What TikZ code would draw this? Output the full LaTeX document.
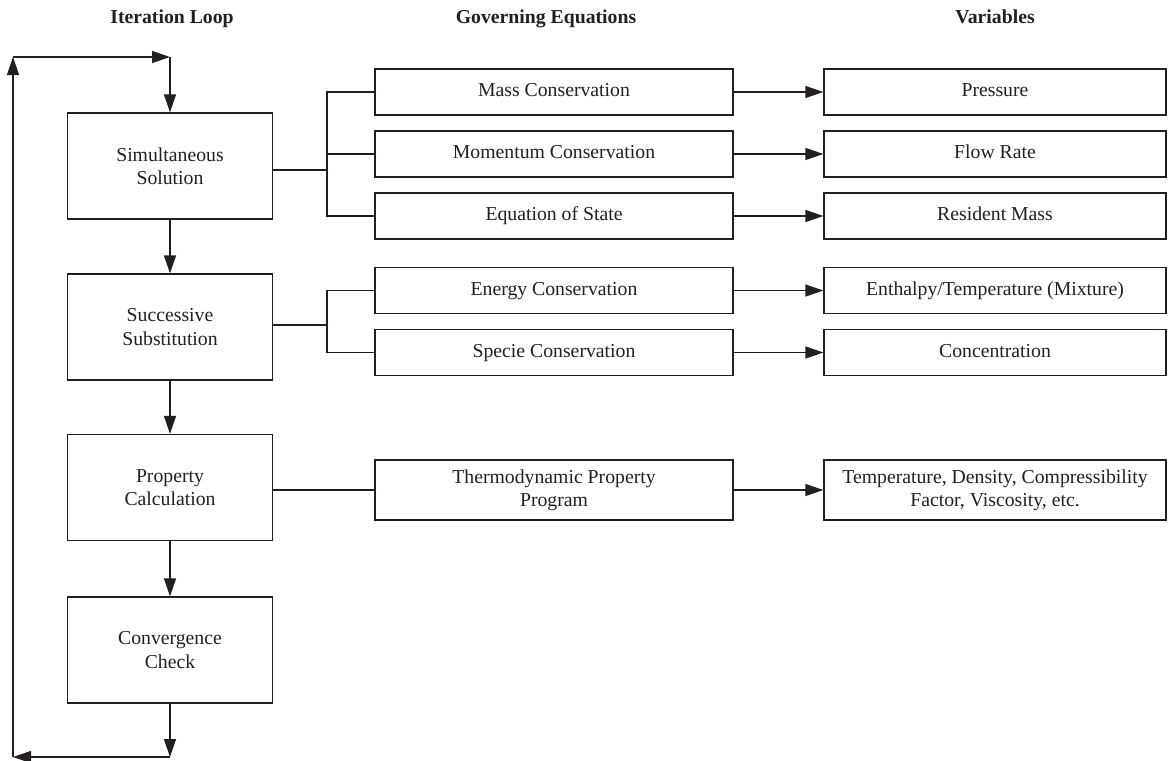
\documentclass[tikz,border=0pt]{standalone}
\usepackage{fontspec}
\setmainfont{Liberation Serif}
\usepackage{tikz}
\usetikzlibrary{arrows.meta}
\definecolor{ink}{HTML}{231F20}

\tikzset{
  box/.style={draw=ink,line width=1pt,text=ink,align=center,inner sep=2pt,
    font=\fontsize{14.8}{17.5}\selectfont},
  loopbox/.style={box,minimum width=153.75pt,minimum height=79.5pt},
  eqbox/.style={box,minimum width=268.5pt,minimum height=34.5pt},
  varbox/.style={box,minimum width=256.5pt,minimum height=34.5pt},
  oneline/.style={text height=10.2pt,text depth=3.2pt},
  head/.style={text=ink,anchor=base,font=\fontsize{14.8}{17.5}\selectfont\bfseries},
  arr/.style={draw=ink,line width=1pt,-{Triangle[length=13.5pt,width=9pt]}},
  wire/.style={draw=ink,line width=1pt}
}

\begin{document}
\begin{tikzpicture}[x=0.75pt,y=-0.75pt]
\useasboundingbox (0,0) rectangle (1176,760);
% column headings
\node[head] (h1) at (172,23) {Iteration Loop};
\node[head] (h2) at (546,23) {Governing Equations};
\node[head] (h3) at (995,23) {Variables};
% iteration loop
\node[loopbox] (sim) at (170,166) {Simultaneous\\Solution};
\node[loopbox] (succ) at (170,327) {Successive\\Substitution};
\node[loopbox] (prop) at (170,487.5) {Property\\Calculation};
\node[loopbox] (conv) at (170,650) {Convergence\\Check};
% governing equations
\node[eqbox,oneline] (mass) at (554,92) {Mass Conservation};
\node[eqbox,oneline] (mom) at (554,154) {Momentum Conservation};
\node[eqbox,oneline] (eos) at (554,216) {Equation of State};
\node[eqbox,oneline] (ener) at (554,290.5) {Energy Conservation};
\node[eqbox,oneline] (spec) at (554,352.5) {Specie Conservation};
\node[eqbox,minimum height=45pt] (thermo) at (554,490) {Thermodynamic Property\\Program};
% variables
\node[varbox,oneline] (pres) at (995,92) {Pressure};
\node[varbox,oneline] (flow) at (995,154) {Flow Rate};
\node[varbox,oneline] (resm) at (995,216) {Resident Mass};
\node[varbox,oneline] (enth) at (995,290.5) {Enthalpy/Temperature (Mixture)};
\node[varbox,oneline] (conc) at (995,352.5) {Concentration};
\node[varbox,minimum height=45pt] (temp) at (995,490) {Temperature, Density, Compressibility\\Factor, Viscosity, etc.};
% loop corners
\coordinate (tl) at (13,57);
\coordinate (tr) at (170,57);
\coordinate (bl) at (13,757);
\coordinate (br) at (170,757);
\coordinate (j1) at (327,170);
\coordinate (j2) at (327,325);
% loop arrows
\draw[arr] (tr) -- (sim);
\draw[arr] (sim) -- (succ);
\draw[arr] (succ) -- (prop);
\draw[arr] (prop) -- (conv);
\draw[arr] (conv) -- (br);
\draw[arr] (br) -- (bl);
\draw[arr] (bl) -- (tl);
\draw[arr] (tl) -- (tr);
% branches
\draw[wire] (sim.east |- j1) -- (j1);
\foreach \e in {mass,mom,eos} \draw[wire] (\e.west) -| (j1);
\draw[wire] (succ.east |- j2) -- (j2);
\foreach \e in {ener,spec} \draw[wire] (\e.west) -| (j2);
\draw[wire] (prop.east |- thermo.west) -- (thermo.west);
% equations to variables
\foreach \a/\b in {mass/pres,mom/flow,eos/resm,ener/enth,spec/conc,thermo/temp}
  \draw[arr] (\a) -- (\b);
\end{tikzpicture}
\end{document}
